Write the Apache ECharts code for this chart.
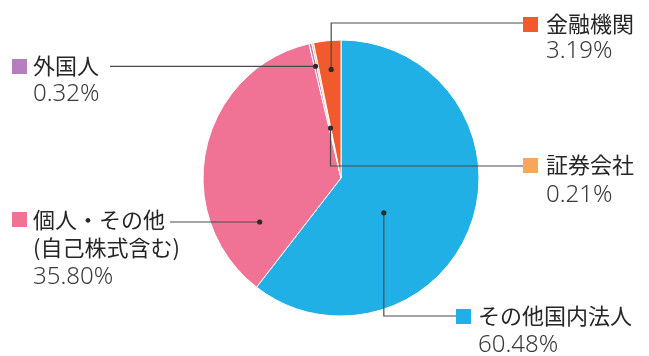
<!DOCTYPE html>
<html>
<head>
<meta charset="utf-8">
<script src="https://cdn.jsdelivr.net/npm/echarts@6/dist/echarts.min.js"></script>
<style>
html,body{margin:0;padding:0;background:#fff;}
#c{width:649px;height:356px;}
</style>
</head>
<body>
<div id="c"></div>
<script>
// ---- data ----
const categories = ['その他国内法人', '個人・その他\n(自己株式含む)', '外国人', '証券会社', '金融機関'];
const values = [60.48, 35.80, 0.32, 0.21, 3.19];

// ---- styles ----
const colors = ['#20b0e5', '#f07294', '#b57fbd', '#f8a65b', '#f15a2c'];
// annotation layout: anchor inside slice (fraction of slice angle, fraction of radius), leader route, label spot
const annot = [
  {frac: 0.593, rf: 0.40, route: 'vert', lineY: 316, endX: 456, sqX: 456, sqY: 309, tx: 478, ty: 316, py: 345},
  {frac: 0.185, rf: 0.67, route: 'horiz', endX: 170, sqX: 12, sqY: 212, tx: 33, ty: 220, py: 277},
  {frac: 0.5, rf: 0.83, route: 'horiz', endX: 110, sqX: 12, sqY: 59, tx: 33, ty: 66, py: 94},
  {frac: 0.5, rf: 0.37, route: 'vert', lineY: 166, endX: 523, sqX: 523, sqY: 158, tx: 546, ty: 165, py: 195},
  {frac: 0.55, rf: 0.79, route: 'vert', lineY: 23, endX: 523, sqX: 523, sqY: 17, tx: 546, ty: 24, py: 51}
];

const chart = echarts.init(document.getElementById('c'), null, {renderer: 'canvas'});
const option = {
  animation: false,
  backgroundColor: '#fff',
  series: [{
    type: 'pie',
    center: [341, 178],
    radius: 138,
    startAngle: 90,
    clockwise: true,
    minAngle: 0,
    avoidLabelOverlap: false,
    label: {show: false},
    labelLine: {show: false},
    itemStyle: {borderColor: '#fff', borderWidth: 1},
    emphasis: {disabled: true},
    data: categories.map((n, i) => ({name: n, value: values[i], itemStyle: {color: colors[i]}}))
  }]
};
chart.setOption(option);

// Build leader lines and labels from the library's computed sector layout
function getLayouts() {
  try {
    const data = chart.getModel().getSeriesByIndex(0).getData();
    const out = [];
    for (let i = 0; i < values.length; i++) out.push(data.getItemLayout(i));
    if (out.every(l => l && isFinite(l.startAngle))) return out;
  } catch (e) {}
  return null;
}
const layouts = getLayouts();
const graphics = [];
const lineColor = '#4a4a4a';
annot.forEach((a, i) => {
  const L = layouts[i];
  const ang = L.startAngle + a.frac * (L.endAngle - L.startAngle);
  const r = L.r * a.rf;
  const px = L.cx + r * Math.cos(ang);
  const py = L.cy + r * Math.sin(ang);
  let pts;
  if (a.route === 'vert') pts = [[px, py], [px, a.lineY], [a.endX, a.lineY]];
  else pts = [[px, py], [a.endX, py]];
  graphics.push({type: 'polyline', shape: {points: pts}, style: {stroke: lineColor, lineWidth: 1.2, fill: null}, z: 10});
  graphics.push({type: 'circle', shape: {cx: px, cy: py, r: 2.6}, style: {fill: '#2b2b2b'}, z: 11});
  graphics.push({type: 'rect', shape: {x: a.sqX, y: a.sqY, width: 15, height: 15}, style: {fill: colors[i]}, z: 10});
  const lines = categories[i].split('\n');
  lines.forEach((t, k) => {
    graphics.push({type: 'text', x: a.tx, y: a.ty + k * 28, style: {text: t, fill: '#262626', font: '22px "Noto Sans CJK JP"', verticalAlign: 'middle', align: 'left'}, z: 10});
  });
  graphics.push({type: 'text', x: a.tx, y: a.py, style: {text: values[i].toFixed(2) + '%', fill: '#3a3a3a', font: '300 24px "Noto Sans"', verticalAlign: 'middle', align: 'left'}, z: 10});
});
chart.setOption({graphic: {elements: graphics}});
</script>
</body>
</html>
